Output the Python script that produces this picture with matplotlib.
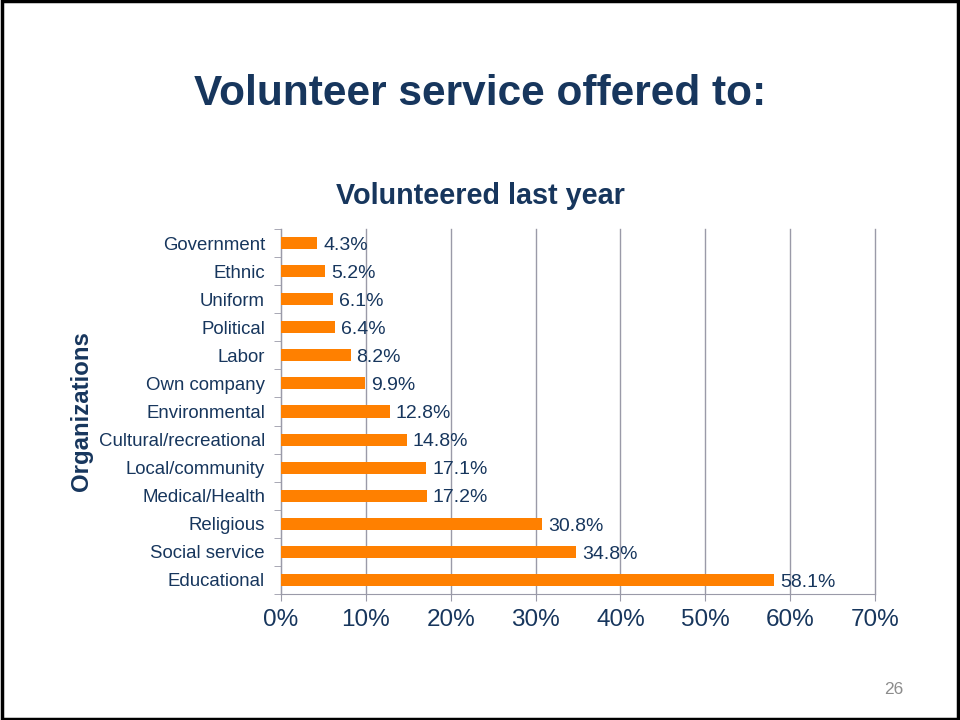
import matplotlib
matplotlib.use('Agg')
import matplotlib.pyplot as plt
from matplotlib.patches import Rectangle
from matplotlib.ticker import PercentFormatter

plt.rcParams['font.family'] = ['Liberation Sans', 'DejaVu Sans']

NAVY = "#17365D"
ORANGE = "#FF8000"
GRID = "#9A9AA8"

# Share of volunteers by type of organization (bottom to top)
categories = ["Educational", "Social service", "Religious", "Medical/Health",
              "Local/community", "Cultural/recreational", "Environmental",
              "Own company", "Labor", "Political", "Uniform", "Ethnic", "Government"]
values = [58.1, 34.8, 30.8, 17.2, 17.1, 14.8, 12.8, 9.9, 8.2, 6.4, 6.1, 5.2, 4.3]
xticks = [0, 10, 20, 30, 40, 50, 60, 70]

fig = plt.figure(figsize=(9.6, 7.2), dpi=100)

# slide frame
fig.patches.append(Rectangle((0.002, 0.002), 0.996, 0.996, transform=fig.transFigure,
                             fill=False, edgecolor="black", linewidth=2.5))

fig.text(0.5, 0.869, "Volunteer service offered to:", ha="center", va="center",
         fontsize=30.5, fontweight="bold", color=NAVY)
fig.text(0.5, 0.728, "Volunteered last year", ha="center", va="center",
         fontsize=20.7, fontweight="bold", color=NAVY)
fig.text(0.931, 0.042, "26", ha="center", va="center", fontsize=12.5, color="#8C8C8C")

ax = fig.add_axes([0.2927, 0.175, 0.6188, 0.507])
y = range(len(categories))
bars = ax.barh(y, values, height=0.43, color=ORANGE, zorder=3)

for b, v in zip(bars, values):
    ax.text(b.get_width() + 0.7, b.get_y() + b.get_height() / 2 - 0.08, f"{v}%",
            va="center", ha="left", fontsize=14, color=NAVY, zorder=4)

ax.set_xlim(0, 70)
ax.set_ylim(-0.5, len(categories) - 0.5)
ax.set_xticks(xticks)
ax.xaxis.set_major_formatter(PercentFormatter(decimals=0))
ax.set_yticks(list(y))
ax.set_yticklabels(categories)
ax.set_yticks([i - 0.5 for i in range(len(categories) + 1)], minor=True)

ax.grid(axis="x", color=GRID, linewidth=1, zorder=0)
for gl in ax.get_xgridlines():
    gl.set_clip_on(False)
ax.tick_params(axis="x", labelsize=17.5, labelcolor=NAVY, color=GRID, length=5, pad=6)
ax.tick_params(axis="y", which="major", length=0, labelsize=13.4, labelcolor=NAVY, pad=11.5)
ax.tick_params(axis="y", which="minor", length=5, color=GRID)

for s in ["top", "right"]:
    ax.spines[s].set_visible(False)
for s in ["left", "bottom"]:
    ax.spines[s].set_color(GRID)

ax.set_ylabel("Organizations", fontsize=17.3, fontweight="bold", color=NAVY, labelpad=4)

fig.savefig("out.png", dpi=100)
